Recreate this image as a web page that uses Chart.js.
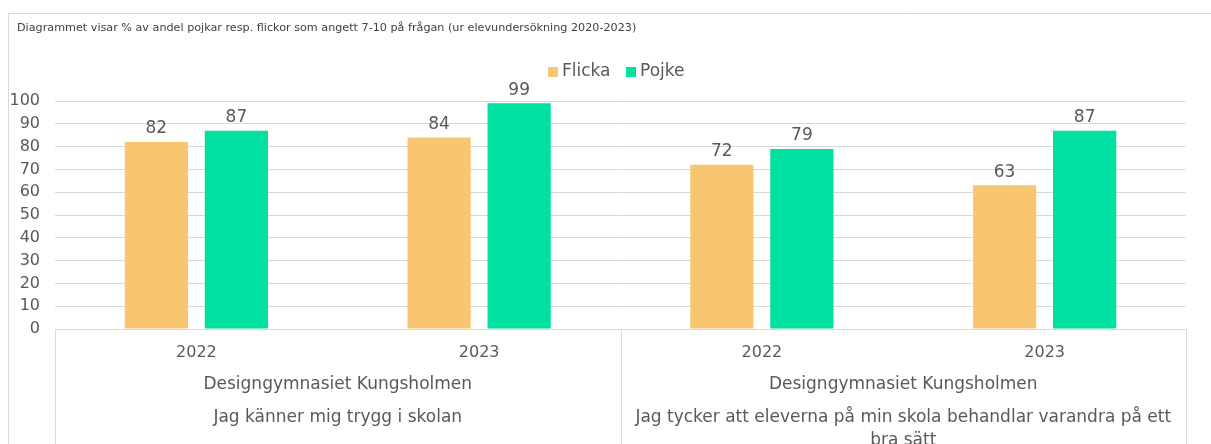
<!DOCTYPE html>
<html>
<head>
<meta charset="utf-8">
<script src="https://cdn.jsdelivr.net/npm/chart.js@4"></script>
<style>
  html, body { margin: 0; padding: 0; background: #fff; }
  #wrap { width: 1211px; height: 444px; }
</style>
</head>
<body>
<div id="wrap"><canvas id="myChart" width="1211" height="444"></canvas></div>
<script>
const years = ['2022', '2023', '2022', '2023'];
const schools = ['Designgymnasiet Kungsholmen', 'Designgymnasiet Kungsholmen'];
const questions = [
    ['Jag känner mig trygg i skolan'],
    ['Jag tycker att eleverna på min skola behandlar varandra på ett', 'bra sätt']
];
const flicka = [82, 84, 72, 63];
const pojke = [87, 99, 79, 87];
const yTicks = [0, 10, 20, 30, 40, 50, 60, 70, 80, 90, 100];

const titleText = 'Diagrammet visar % av andel pojkar resp. flickor som angett 7-10 på frågan (ur elevundersökning 2020-2023)';
const font = '"DejaVu Sans", sans-serif';
const textColor = '#595959';
const lineColor = '#d9d9d9';

const decor = {
    id: 'decor',
    beforeDraw(chart) {
        const c = chart.ctx;
        c.save();
        // outer frame
        c.strokeStyle = lineColor;
        c.lineWidth = 1;
        c.beginPath();
        c.moveTo(8.5, 450);
        c.lineTo(8.5, 13.5);
        c.lineTo(1211, 13.5);
        c.stroke();
        // title
        c.fillStyle = '#404040';
        c.font = '11.2px ' + font;
        c.textBaseline = 'middle';
        c.fillText(titleText, 17, 28);
        // legend
        const items = [['Flicka', chart.data.datasets[0].backgroundColor, 548], ['Pojke', chart.data.datasets[1].backgroundColor, 626]];
        c.font = '17px ' + font;
        items.forEach(it => {
            c.fillStyle = it[1];
            c.fillRect(it[2], 67, 10, 10);
            c.fillStyle = textColor;
            c.fillText(it[0], it[2] + 14, 72);
        });
        c.restore();
    },
    afterDraw(chart) {
        const c = chart.ctx;
        const x = chart.scales.x;
        const area = chart.chartArea;
        c.save();
        c.strokeStyle = lineColor;
        c.lineWidth = 1;
        const b = Math.round(area.bottom) + 0.5;
        const l = Math.round(area.left) + 0.5;
        const r = Math.round(area.right) + 0.5;
        const mid = Math.round((area.left + area.right) / 2) + 0.5;
        c.beginPath();
        c.moveTo(l, b); c.lineTo(r, b);
        [l, mid, r].forEach(px => { c.moveTo(px, b); c.lineTo(px, 450); });
        c.stroke();

        c.fillStyle = textColor;
        c.textAlign = 'center';
        c.textBaseline = 'middle';
        c.font = '16px ' + font;
        years.forEach((y, i) => c.fillText(y, x.getPixelForValue(i), 353));
        c.font = '17px ' + font;
        schools.forEach((s, g) => {
            const cx = (x.getPixelForValue(g * 2) + x.getPixelForValue(g * 2 + 1)) / 2;
            c.fillText(s, cx, 385);
            questions[g].forEach((q, k) => c.fillText(q, cx, 418 + k * 23));
        });

        // value labels
        c.font = '17px ' + font;
        chart.data.datasets.forEach((ds, di) => {
            chart.getDatasetMeta(di).data.forEach((bar, i) => {
                c.fillText(String(ds.data[i]), bar.x, bar.y - 13);
            });
        });
        c.restore();
    }
};

new Chart(document.getElementById('myChart'), {
    type: 'bar',
    data: {
        labels: years,
        datasets: [
            { label: 'Flicka', data: flicka, backgroundColor: '#f8c571', categoryPercentage: 0.566, barPercentage: 0.79 },
            { label: 'Pojke', data: pojke, backgroundColor: '#00e0a0', categoryPercentage: 0.566, barPercentage: 0.79 }
        ]
    },
    options: {
        responsive: false,
        animation: false,
        devicePixelRatio: 1,
        layout: { padding: { top: 101, right: 25, left: 0, bottom: 0 } },
        plugins: { legend: { display: false }, title: { display: false }, tooltip: { enabled: false } },
        scales: {
            x: {
                grid: { display: false },
                border: { display: false },
                ticks: { display: false },
                afterFit(s) { s.height = 115; }
            },
            y: {
                min: 0, max: 100,
                afterBuildTicks(s) { s.ticks = yTicks.map(v => ({ value: v })); },
                grid: { color: lineColor, drawTicks: false },
                border: { display: false },
                ticks: { color: textColor, font: { family: font, size: 16 }, padding: 15, autoSkip: false },
                afterFit(s) { s.width = 55; }
            }
        }
    },
    plugins: [decor]
});
</script>
</body>
</html>
